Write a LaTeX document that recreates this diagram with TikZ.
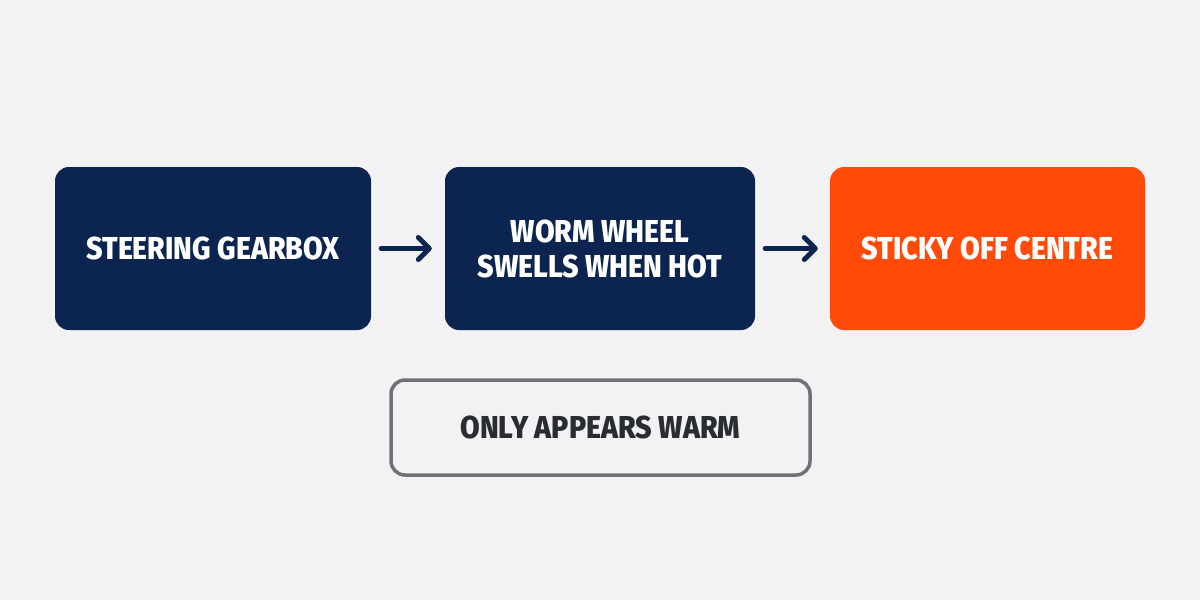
\documentclass[tikz,border=0pt]{standalone}
\usepackage{fontspec}
\setmainfont{Fira Sans}[FakeStretch=0.9, BoldFont={* ExtraBold}]
\usetikzlibrary{arrows.meta}
\definecolor{bg}{HTML}{F2F2F4}
\definecolor{navy}{HTML}{0B2550}
\definecolor{orng}{HTML}{FF4A0A}
\definecolor{grayb}{HTML}{6E7275}
\definecolor{darkt}{HTML}{2A2D30}
\tikzset{
  box/.style={rounded corners=14pt, minimum height=163pt, text=white, font=\fontsize{31.7}{35}\selectfont\bfseries, align=center, inner sep=0pt},
  navybox/.style={box, fill=navy},
  orangebox/.style={box, fill=orng},
  notebox/.style={rounded corners=14pt, draw=grayb, line width=3.5pt, fill=bg, text=darkt, font=\fontsize{31.7}{35}\selectfont\bfseries, minimum width=419pt, minimum height=95pt, inner sep=0pt},
  flow/.style={draw=navy, line width=5pt, -{Straight Barb[length=11pt,width=22pt,line cap=round,line join=round]}, line cap=round}
}
\begin{document}
\begin{tikzpicture}[x=1pt,y=-1pt]
\fill[bg] (0,0) rectangle (1200,600);
\useasboundingbox (0,0) rectangle (1200,600);
\node[navybox, minimum width=316pt] (a) at (213,248.5) {STEERING GEARBOX};
\node[navybox, minimum width=310pt] (b) at (600,248.5) {WORM WHEEL\\SWELLS WHEN HOT};
\node[orangebox, minimum width=315pt] (c) at (987.5,248.5) {STICKY OFF CENTRE};
\node[notebox] (d) at (600.5,427.5) {ONLY APPEARS WARM};
\draw[flow, shorten <=10pt, shorten >=13pt] (a.east) -- (b.west);
\draw[flow, shorten <=10pt, shorten >=12pt] (b.east) -- (c.west);
\end{tikzpicture}
\end{document}
